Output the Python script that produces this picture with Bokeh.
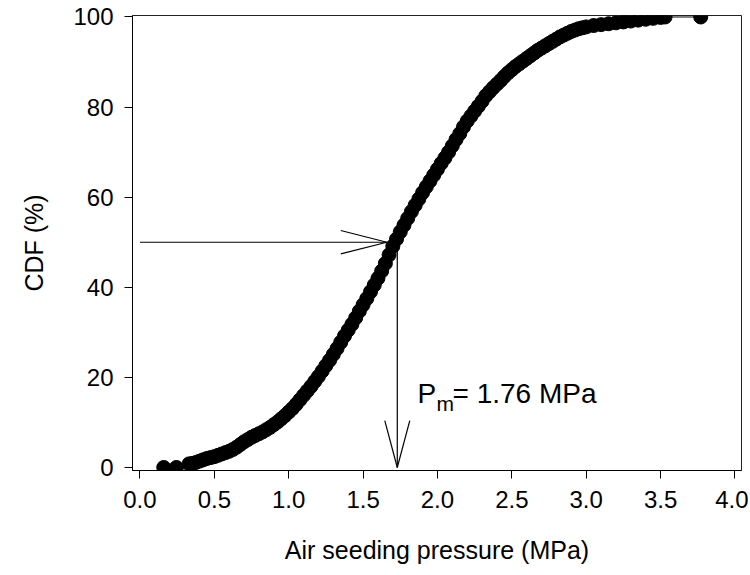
from bokeh.plotting import figure
from bokeh.models import Range1d, FixedTicker, Label, CustomJSTickFormatter
from bokeh.embed import file_html
from bokeh.resources import INLINE

# ---- data ----
pressure = [0.16, 0.245, 0.33,
            0.35, 0.375, 0.40, 0.425, 0.45, 0.475, 0.50, 0.525, 0.55, 0.575,
            0.60, 0.625, 0.65, 0.675, 0.70, 0.725, 0.75, 0.775, 0.80, 0.825,
            0.85, 0.875, 0.90, 0.925, 0.95, 0.975, 1.00, 1.025, 1.05, 1.075,
            1.10, 1.125, 1.15, 1.175, 1.20, 1.225, 1.25, 1.275, 1.30, 1.325,
            1.35, 1.375, 1.40, 1.425, 1.45, 1.475, 1.50, 1.525, 1.55, 1.575,
            1.60, 1.625, 1.65, 1.675, 1.70, 1.725, 1.75, 1.775, 1.80, 1.825,
            1.85, 1.875, 1.90, 1.925, 1.95, 1.975, 2.00, 2.025, 2.05, 2.075,
            2.10, 2.125, 2.15, 2.175, 2.20, 2.225, 2.25, 2.275, 2.30, 2.325,
            2.35, 2.375, 2.40, 2.425, 2.45, 2.475, 2.50, 2.525, 2.55, 2.575,
            2.60, 2.625, 2.65, 2.675, 2.70, 2.725, 2.75, 2.775, 2.80, 2.825,
            2.85, 2.875, 2.90, 2.925, 2.95, 2.975, 3.00, 3.05, 3.10, 3.15,
            3.20, 3.25, 3.30, 3.35, 3.40, 3.45, 3.50, 3.53, 3.77]
cdf = [0.0, 0.0, 0.8,
       0.9, 1.1, 1.4, 1.7, 2.0, 2.2, 2.4, 2.7, 3.0, 3.3,
       3.6, 4.0, 4.5, 5.1, 5.7, 6.2, 6.7, 7.1, 7.5, 7.9,
       8.4, 8.9, 9.5, 10.1, 10.8, 11.5, 12.3, 13.1, 14.0, 15.0,
       16.0, 17.0, 18.0, 19.1, 20.2, 21.4, 22.6, 23.8, 25.1, 26.4,
       27.8, 29.2, 30.5, 31.8, 33.2, 34.7, 36.1, 37.5, 39.0, 40.5,
       42.0, 43.6, 45.3, 47.2, 49.1, 50.7, 52.3, 53.8, 55.3, 56.8,
       58.2, 59.6, 61.0, 62.3, 63.6, 64.9, 66.2, 67.5, 68.7, 70.0,
       71.4, 72.8, 74.1, 75.6, 76.9, 78.0, 79.1, 80.2, 81.3, 82.5,
       83.4, 84.3, 85.1, 85.9, 86.8, 87.6, 88.3, 89.0, 89.6, 90.2,
       90.8, 91.4, 92.0, 92.6, 93.1, 93.6, 94.1, 94.6, 95.1, 95.6,
       96.0, 96.4, 96.8, 97.1, 97.4, 97.6, 97.8, 98.1, 98.3, 98.5,
       98.7, 98.9, 99.1, 99.3, 99.5, 99.7, 99.9, 100.0, 100.0]

x_ticks = [0.0, 0.5, 1.0, 1.5, 2.0, 2.5, 3.0, 3.5, 4.0]
y_ticks = [0, 20, 40, 60, 80, 100]

median_cdf = 50.0        # horizontal arrow level (%)
median_x = 1.73          # vertical arrow position (MPa)
arrow_start_x = 0.0
arrow_tip_x = 1.66
median_label = "= 1.76 MPa"

FONT = "Liberation Sans"

p = figure(width=748, height=575, output_backend="svg", toolbar_location=None,
           x_range=Range1d(-0.05, 4.044), y_range=Range1d(-0.67, 100.33),
           min_border_left=132, min_border_right=7, min_border_top=15,
           min_border_bottom=105)
p.grid.visible = False
p.background_fill_color = "white"
p.border_fill_color = "white"
p.outline_line_color = "#222222"
p.outline_line_width = 1

for ax in (p.xaxis[0], p.yaxis[0]):
    ax.axis_line_color = "black"
    ax.axis_line_width = 1
    ax.major_tick_line_color = "black"
    ax.major_tick_out = 8
    ax.major_tick_in = 0
    ax.minor_tick_line_color = None
    ax.major_label_text_font = FONT
    ax.major_label_text_font_size = "24px"
    ax.major_label_text_color = "black"
    ax.axis_label_text_font = FONT
    ax.axis_label_text_font_size = "25px"
    ax.axis_label_text_font_style = "normal"
    ax.axis_label_text_color = "black"

p.xaxis.ticker = FixedTicker(ticks=x_ticks)
p.yaxis.ticker = FixedTicker(ticks=y_ticks)
p.xaxis.formatter = CustomJSTickFormatter(code="return tick.toFixed(1);")
p.yaxis.formatter = CustomJSTickFormatter(code="return tick.toFixed(0);")
p.xaxis.axis_label = "Air seeding pressure (MPa)"
p.yaxis.axis_label = "CDF (%)"
p.xaxis.major_label_standoff = 12
p.yaxis.major_label_standoff = 11
p.xaxis.axis_label_standoff = 25
p.yaxis.axis_label_standoff = 22

# arrows (open heads)
head_len_x, head_half_y = 0.31, 2.6     # horizontal arrow head (style)
head_len_y, head_half_x = 10.4, 0.084   # vertical arrow head (style)
p.segment(x0=[arrow_start_x], y0=[median_cdf], x1=[arrow_tip_x], y1=[median_cdf],
          line_color="black", line_width=1.2)
p.segment(x0=[arrow_tip_x - head_len_x, arrow_tip_x - head_len_x],
          y0=[median_cdf + head_half_y, median_cdf - head_half_y],
          x1=[arrow_tip_x, arrow_tip_x], y1=[median_cdf, median_cdf],
          line_color="black", line_width=1.2)
p.segment(x0=[median_x], y0=[median_cdf], x1=[median_x], y1=[0],
          line_color="black", line_width=1.2)
p.segment(x0=[median_x - head_half_x, median_x + head_half_x],
          y0=[head_len_y, head_len_y], x1=[median_x, median_x], y1=[0, 0],
          line_color="black", line_width=1.2)

# data
p.line(pressure, cdf, line_color="black", line_width=1)
p.scatter(pressure, cdf, marker="circle", size=14, fill_color="black",
          line_color="black")

# annotation P_m = 1.76 MPa
lx, ly = 1.866, 16.4
p.add_layout(Label(x=lx, y=ly, text="P", text_font=FONT, text_font_size="28px",
                   text_baseline="alphabetic", text_color="black"))
p.add_layout(Label(x=lx, y=ly, x_offset=19, y_offset=-10, text="m", text_font=FONT,
                   text_font_size="21px", text_baseline="alphabetic", text_color="black"))
p.add_layout(Label(x=lx, y=ly, x_offset=35, text=median_label, text_font=FONT,
                   text_font_size="28px", text_baseline="alphabetic", text_color="black"))

open("out.html", "w").write(file_html(p, INLINE))
